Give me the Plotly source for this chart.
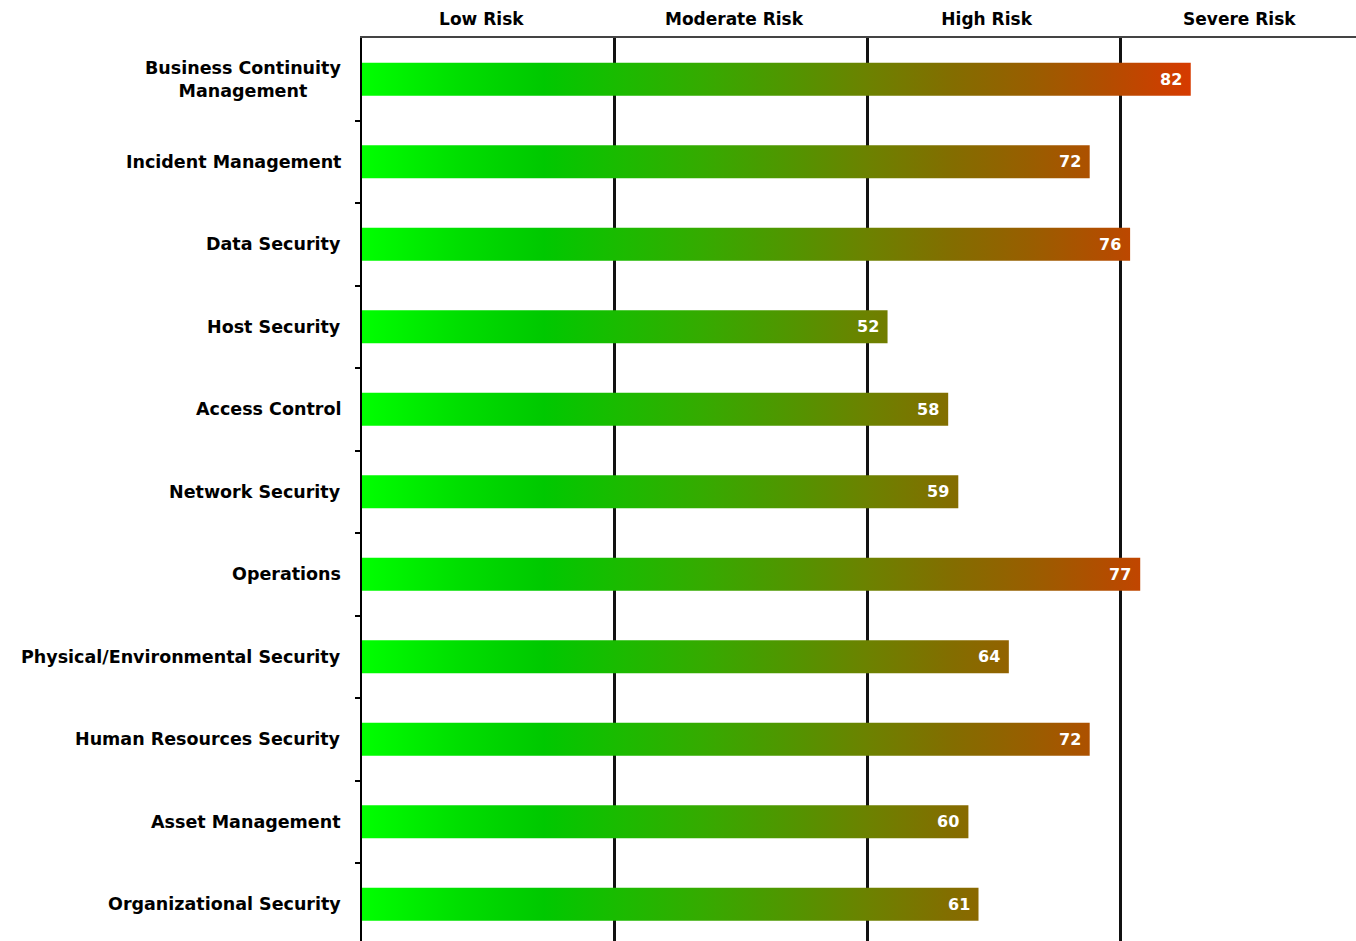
import plotly.graph_objects as go

categories = [
    "Business Continuity<br>Management",
    "Incident Management",
    "Data Security",
    "Host Security",
    "Access Control",
    "Network Security",
    "Operations",
    "Physical/Environmental Security",
    "Human Resources Security",
    "Asset Management",
    "Organizational Security",
]
scores = [82, 72, 76, 52, 58, 59, 77, 64, 72, 60, 61]

risk_labels = ["Low Risk", "Moderate Risk", "High Risk", "Severe Risk"]
risk_thresholds = [25, 50, 75]
risk_mids = [12.5, 37.5, 62.5, 87.5]

gradient_stops = [0, 10, 18, 26, 34, 42, 50, 58, 66, 74, 82, 100]
gradient_colors = ["#00ff00", "#00dd00", "#00c800", "#1cba00", "#36aa00", "#509600",
                   "#6c8200", "#826e00", "#985e00", "#b44c00", "#d63a00", "#ff2000"]

FONT = "DejaVu Sans, Verdana, sans-serif"
half = 0.2
colorscale = [[s / 100, c] for s, c in zip(gradient_stops, gradient_colors)]

fig = go.Figure()

for i, v in enumerate(scores):
    fig.add_trace(go.Scatter(
        x=[0, v, v, 0, 0],
        y=[i - half, i - half, i + half, i + half, i - half],
        mode="lines",
        line=dict(width=0),
        fill="toself",
        fillgradient=dict(type="horizontal", colorscale=colorscale, start=0, stop=100),
        hoverinfo="skip",
        showlegend=False,
        xaxis="x", yaxis="y",
    ))
    fig.add_annotation(
        x=v, y=i, xref="x", yref="y", text=str(v), showarrow=False,
        xanchor="right", xshift=-7,
        font=dict(family=FONT, size=16, color="white", weight="bold"),
    )

for i, c in enumerate(categories):
    fig.add_annotation(
        x=0, y=i, xref="paper", yref="y", text=c, showarrow=False,
        xanchor="right", xshift=-19, align="center",
        font=dict(family=FONT, size=17.5, color="black", weight="bold"),
    )

# invisible trace to activate xaxis2 gridlines
fig.add_trace(go.Scatter(x=[0], y=[0], xaxis="x2", yaxis="y", mode="markers",
                         marker=dict(opacity=0), hoverinfo="skip", showlegend=False))

xmax = 98.35
fig.update_layout(
    width=1356, height=941,
    margin=dict(l=362, r=0, t=38, b=0),
    paper_bgcolor="white", plot_bgcolor="white",
    xaxis=dict(
        range=[0, xmax], side="top", tickvals=risk_mids, ticktext=risk_labels,
        showgrid=False, zeroline=False, ticks="", showline=True,
        linecolor="#444", linewidth=1.5, ticklabelstandoff=4, ticklabelshift=-7,
        tickfont=dict(family=FONT, size=17, color="black", weight="bold"),
    ),
    xaxis2=dict(
        range=[0, xmax], overlaying="x", side="bottom", tickvals=risk_thresholds,
        showticklabels=False, showgrid=True, gridcolor="#111", gridwidth=2.5,
        zeroline=False, ticks="", showline=False,
    ),
    yaxis=dict(
        range=[10.445, -0.5], tickvals=[k + 0.5 for k in range(len(categories) - 1)],
        showticklabels=False, ticks="outside", ticklen=5, tickwidth=2, tickcolor="black",
        showgrid=False, zeroline=False, showline=True, linecolor="black", linewidth=2,
    ),
)

fig.write_html("out.html")
